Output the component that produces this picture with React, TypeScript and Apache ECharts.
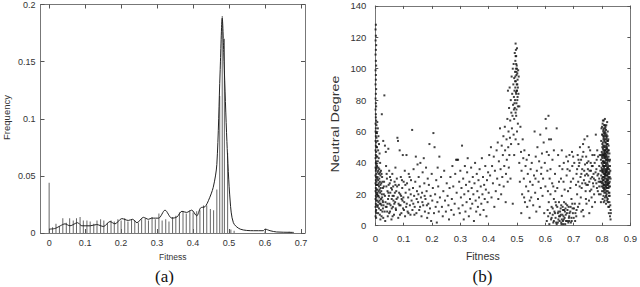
import React, { useEffect, useRef } from "react";
import * as echarts from "echarts";

// ---- Panel (a): histogram of fitness ----
const binFitness = [
  0, 0.0095, 0.019, 0.0286, 0.038, 0.0477, 0.057, 0.067, 0.076, 0.086,
  0.095, 0.105, 0.114, 0.124, 0.133, 0.143, 0.152, 0.162, 0.172, 0.181,
  0.191, 0.2, 0.21, 0.219, 0.229, 0.238, 0.248, 0.257, 0.267, 0.276,
  0.286, 0.295, 0.305, 0.314, 0.324, 0.333, 0.343, 0.352, 0.362, 0.372,
  0.381, 0.391, 0.4, 0.41, 0.419, 0.429, 0.438, 0.448, 0.457, 0.466,
  0.474, 0.481, 0.487, 0.496, 0.505, 0.514, 0.6, 0.667,
];
const binFreq = [
  0.044, 0.005, 0.008, 0.006, 0.013, 0.009, 0.013, 0.011, 0.013, 0.014,
  0.011, 0.011, 0.01, 0.008, 0.011, 0.012, 0.011, 0.009, 0.011, 0.01,
  0.012, 0.011, 0.013, 0.01, 0.012, 0.011, 0.009, 0.012, 0.013, 0.011,
  0.014, 0.012, 0.017, 0.011, 0.012, 0.01, 0.014, 0.015, 0.018, 0.019,
  0.017, 0.02, 0.018, 0.019, 0.02, 0.024, 0.024, 0.021, 0.02, 0.038,
  0.12, 0.19, 0.17, 0.07, 0.003, 0.002, 0.0015, 0.001,
];
const curveFitness = [
  0, 0.017, 0.031, 0.044, 0.058, 0.079, 0.091, 0.114, 0.132, 0.151,
  0.169, 0.183, 0.202, 0.22, 0.232, 0.244, 0.262, 0.276, 0.285, 0.304,
  0.322, 0.341, 0.355, 0.369, 0.382, 0.396, 0.41, 0.421, 0.433, 0.443,
  0.456, 0.466, 0.475, 0.481, 0.486, 0.494, 0.503, 0.512, 0.531, 0.568,
  0.595, 0.6, 0.614, 0.632, 0.669, 0.68,
];
const curveFreq = [
  0.0034, 0.004, 0.0063, 0.008, 0.0063, 0.009, 0.0063, 0.0063, 0.0074, 0.0057,
  0.01, 0.008, 0.0126, 0.011, 0.012, 0.009, 0.0137, 0.012, 0.013, 0.013,
  0.02, 0.013, 0.014, 0.019, 0.018, 0.02, 0.015, 0.022, 0.023, 0.0286,
  0.04, 0.06, 0.14, 0.188, 0.15, 0.08, 0.028, 0.009, 0.0034, 0.002,
  0.002, 0.0034, 0.002, 0.0009, 0.0006, 0.0005,
];
const fitnessTicksA = [0, 0.1, 0.2, 0.3, 0.4, 0.5, 0.6, 0.7];

// ---- Panel (b): neutral degree vs fitness (x, y pairs) ----
const ptsColumnZero = [0.002,128, 0.001,125, 0.002,121, 0.001,118, 0.003,115, 0.002,112, 0.001,109, 0.002,105, 0.003,102, 0.001,99, 0.002,96, 0.002,93, 0.001,90, 0.003,87, 0.002,84, 0.001,81, 0.002,78, 0.003,76, 0.001,74, 0.002,71, 0.002,69, 0.003,67, 0.001,65, 0.004,64, 0.002,62, 0.001,60, 0.003,59, 0.002,57, 0.004,56, 0.001,54, 0.003,53, 0.002,51, 0.004,50, 0.001,48, 0.003,47, 0.002,45, 0.004,44, 0.001,43, 0.003,41, 0.002,40, 0.004,39, 0.001,37, 0.003,36, 0.002,35, 0.004,33, 0.001,32, 0.003,31, 0.002,29, 0.004,28, 0.001,27, 0.003,26, 0.002,24, 0.004,23, 0.001,22, 0.003,21, 0.002,19, 0.004,18, 0.001,17, 0.003,16, 0.002,14, 0.004,13, 0.001,12, 0.003,10, 0.002,9, 0.004,8, 0.001,6, 0.003,5];
const ptsNearZero = [0.007,66, 0.009,62, 0.006,59, 0.011,57, 0.008,54, 0.013,52, 0.006,50, 0.01,48, 0.015,46, 0.007,44, 0.012,43, 0.009,41, 0.017,40, 0.006,38, 0.011,37, 0.014,36, 0.02,35, 0.008,34, 0.013,33, 0.018,32, 0.024,31, 0.006,30, 0.01,29, 0.016,28, 0.021,27, 0.009,26, 0.013,25, 0.019,24, 0.027,24, 0.007,23, 0.012,22, 0.017,21, 0.023,20, 0.03,20, 0.009,19, 0.014,18, 0.02,17, 0.026,16, 0.007,16, 0.011,15, 0.016,14, 0.022,13, 0.029,13, 0.008,12, 0.013,11, 0.019,10, 0.025,9, 0.033,9, 0.01,8, 0.016,7, 0.022,6, 0.028,5, 0.018,4, 0.035,3, 0.012,27, 0.015,23, 0.008,21, 0.025,28, 0.03,25, 0.01,35, 0.005,26, 0.019,14, 0.027,11, 0.022,33, 0.032,83, 0.023,71, 0.028,54, 0.034,51, 0.037,47, 0.014,30, 0.018,26, 0.021,22, 0.024,18, 0.027,15, 0.031,28, 0.034,19, 0.037,12, 0.04,33, 0.043,14, 0.046,21, 0.049,8, 0.052,31, 0.056,24, 0.058,11, 0.061,19, 0.067,14, 0.071,26, 0.075,17, 0.084,21, 0.089,13, 0.094,29, 0.099,18, 0.011,19, 0.015,16, 0.009,13, 0.017,34, 0.006,20, 0.008,31, 0.005,37];
const ptsLow = [0.038,38, 0.041,30, 0.043,22, 0.045,17, 0.04,12, 0.044,6, 0.047,26, 0.049,35, 0.046,49, 0.05,14, 0.052,9, 0.053,21, 0.055,29, 0.057,4, 0.058,17, 0.06,33, 0.062,12, 0.063,25, 0.065,19, 0.066,7, 0.068,28, 0.07,15, 0.071,37, 0.073,10, 0.074,22, 0.076,30, 0.078,56, 0.08,54, 0.079,18, 0.081,5, 0.083,26, 0.085,13, 0.086,48, 0.088,20, 0.09,31, 0.092,8, 0.093,17, 0.095,24, 0.097,45, 0.098,11, 0.1,28, 0.102,15, 0.104,35, 0.105,6, 0.107,21, 0.109,12, 0.11,45, 0.112,27, 0.114,9, 0.116,18, 0.118,33, 0.12,23, 0.122,13, 0.124,7, 0.126,29, 0.128,16, 0.13,61, 0.131,10, 0.133,24, 0.135,36, 0.137,19, 0.139,12, 0.141,28, 0.143,44, 0.145,8, 0.147,22, 0.149,39, 0.151,15, 0.153,31, 0.155,10, 0.157,25, 0.159,40, 0.161,18, 0.163,6, 0.165,21, 0.167,34, 0.169,13, 0.171,43, 0.173,27, 0.175,9, 0.177,17, 0.179,37, 0.181,22, 0.183,5, 0.185,30, 0.187,14, 0.189,26, 0.191,52, 0.193,11, 0.195,19, 0.197,3, 0.199,33, 0.201,16, 0.203,24, 0.205,59, 0.207,8, 0.209,50, 0.211,20, 0.213,12, 0.215,29, 0.217,2, 0.219,15, 0.22,37, 0.222,25, 0.224,9, 0.226,44, 0.228,18, 0.036,15, 0.039,25, 0.042,9, 0.048,19, 0.051,27, 0.054,13, 0.059,23, 0.061,6, 0.064,16, 0.069,21, 0.072,11, 0.077,25, 0.082,14, 0.087,7, 0.091,19, 0.096,16, 0.101,10, 0.106,26, 0.111,14, 0.117,8, 0.121,31, 0.125,20, 0.134,14, 0.138,7, 0.146,17, 0.152,20, 0.158,12, 0.166,15, 0.174,19, 0.182,13, 0.188,8];
const ptsMid = [0.232,31, 0.235,12, 0.238,6, 0.24,22, 0.243,35, 0.246,16, 0.249,9, 0.252,27, 0.255,19, 0.258,13, 0.26,4, 0.262,24, 0.265,31, 0.268,10, 0.27,17, 0.272,38, 0.275,25, 0.277,7, 0.28,14, 0.282,33, 0.285,42, 0.287,21, 0.289,42, 0.292,42, 0.294,11, 0.296,28, 0.298,8, 0.3,35, 0.302,18, 0.304,24, 0.306,51, 0.308,13, 0.31,30, 0.312,4, 0.314,20, 0.316,38, 0.318,9, 0.32,26, 0.322,15, 0.324,34, 0.326,43, 0.328,22, 0.33,6, 0.332,28, 0.334,17, 0.336,11, 0.338,37, 0.34,24, 0.342,14, 0.344,31, 0.346,20, 0.348,3, 0.35,27, 0.352,40, 0.354,16, 0.356,9, 0.358,33, 0.36,22, 0.362,12, 0.364,29, 0.366,18, 0.368,36, 0.37,7, 0.372,25, 0.374,14, 0.376,43, 0.378,20, 0.38,31, 0.382,10, 0.384,26, 0.386,17, 0.388,38, 0.39,23, 0.392,6, 0.394,29, 0.396,15, 0.398,34, 0.4,21];
const ptsPeak = [0.402,45, 0.405,32, 0.408,50, 0.41,18, 0.412,38, 0.415,27, 0.418,44, 0.42,12, 0.422,35, 0.425,22, 0.428,48, 0.43,30, 0.432,53, 0.434,17, 0.436,41, 0.438,26, 0.44,62, 0.442,36, 0.444,20, 0.446,51, 0.448,31, 0.45,45, 0.452,57, 0.453,25, 0.455,38, 0.457,63, 0.458,48, 0.46,15, 0.461,33, 0.463,55, 0.464,42, 0.466,68, 0.467,28, 0.468,86, 0.469,50, 0.47,60, 0.471,37, 0.472,75, 0.473,45, 0.474,88, 0.475,56, 0.476,67, 0.477,30, 0.478,80, 0.479,52, 0.48,72, 0.481,95, 0.482,62, 0.483,84, 0.484,70, 0.485,100, 0.486,77, 0.487,90, 0.488,58, 0.488,103, 0.489,82, 0.49,68, 0.49,94, 0.491,86, 0.492,110, 0.492,75, 0.493,98, 0.493,80, 0.494,105, 0.494,88, 0.495,116, 0.495,72, 0.496,100, 0.496,92, 0.497,108, 0.497,84, 0.498,96, 0.498,78, 0.499,102, 0.499,90, 0.5,113, 0.5,86, 0.501,97, 0.501,80, 0.502,93, 0.503,88, 0.504,99, 0.505,84, 0.506,95, 0.508,76, 0.485,14, 0.49,45, 0.495,55, 0.5,60, 0.503,65, 0.497,70, 0.495,108, 0.496,112, 0.497,103, 0.498,98, 0.494,95, 0.499,86, 0.501,90, 0.493,92, 0.496,85, 0.5,100, 0.502,82, 0.498,74, 0.491,78, 0.489,74, 0.503,76];
const ptsPostPeak = [0.505,52, 0.508,40, 0.51,28, 0.512,63, 0.514,47, 0.516,35, 0.518,20, 0.52,55, 0.522,43, 0.524,30, 0.526,48, 0.528,15, 0.53,38, 0.532,25, 0.534,42, 0.536,12, 0.538,33, 0.54,22, 0.542,45, 0.544,5, 0.546,28, 0.548,36, 0.55,18, 0.552,40, 0.555,26, 0.557,13, 0.56,32, 0.562,60, 0.564,21, 0.566,44, 0.568,9, 0.57,35, 0.572,50, 0.574,17, 0.576,28, 0.578,41, 0.58,12, 0.582,58, 0.584,24, 0.586,37, 0.588,46, 0.59,19, 0.592,30, 0.594,53, 0.596,8, 0.598,40, 0.6,25, 0.601,68, 0.603,62, 0.605,47, 0.607,35, 0.609,22, 0.611,70, 0.613,55, 0.515,8, 0.525,18, 0.545,16, 0.565,30, 0.585,33];
const ptsSixties = [0.605,3, 0.608,10, 0.61,6, 0.612,15, 0.614,1, 0.616,8, 0.618,20, 0.62,4, 0.622,12, 0.624,27, 0.626,7, 0.628,2, 0.63,17, 0.632,9, 0.634,33, 0.636,5, 0.638,13, 0.64,1, 0.642,24, 0.644,8, 0.646,4, 0.648,15, 0.65,38, 0.652,6, 0.654,11, 0.656,2, 0.658,19, 0.66,7, 0.662,3, 0.664,28, 0.666,10, 0.668,5, 0.67,1, 0.672,14, 0.674,44, 0.676,8, 0.678,3, 0.68,22, 0.682,12, 0.684,6, 0.686,35, 0.688,9, 0.69,2, 0.692,17, 0.694,47, 0.696,11, 0.698,30, 0.7,5, 0.702,40, 0.704,14, 0.706,8, 0.708,26, 0.615,30, 0.625,42, 0.635,22, 0.645,45, 0.655,30, 0.665,40, 0.675,32, 0.685,45, 0.695,38, 0.62,55, 0.64,62, 0.63,48, 0.66,36, 0.68,41, 0.69,28, 0.612,45, 0.618,36, 0.628,25, 0.648,28, 0.658,48, 0.668,23, 0.678,36, 0.688,24, 0.698,44, 0.662,10, 0.648,6, 0.652,9, 0.658,4, 0.664,6, 0.672,7, 0.678,10, 0.684,3, 0.692,5, 0.656,13, 0.666,15, 0.622,5, 0.626,11, 0.63,3, 0.634,8, 0.638,2, 0.642,12, 0.646,9, 0.65,3, 0.654,7, 0.657,1, 0.661,12, 0.665,4, 0.669,9, 0.673,3, 0.677,13, 0.681,2, 0.685,8, 0.689,12, 0.693,3, 0.697,8, 0.701,11, 0.705,3, 0.709,6, 0.636,15, 0.644,2, 0.663,1, 0.671,11, 0.683,5, 0.695,14, 0.71,10];
const ptsSeventies = [0.71,33, 0.712,20, 0.714,45, 0.716,28, 0.718,38, 0.72,14, 0.722,50, 0.724,31, 0.726,42, 0.728,24, 0.73,36, 0.732,10, 0.734,47, 0.736,29, 0.738,55, 0.74,39, 0.742,22, 0.744,44, 0.746,33, 0.748,57, 0.75,26, 0.752,41, 0.754,16, 0.756,35, 0.758,48, 0.76,30, 0.762,23, 0.764,38, 0.766,45, 0.768,27, 0.77,33, 0.772,20, 0.774,40, 0.776,29, 0.778,58, 0.78,36, 0.782,24, 0.784,32, 0.786,44, 0.788,28, 0.79,38, 0.715,12, 0.725,18, 0.735,6, 0.745,14, 0.755,8, 0.765,12, 0.775,15, 0.785,22, 0.73,27, 0.74,32, 0.75,36, 0.76,40, 0.77,25, 0.72,40, 0.745,26, 0.755,28, 0.765,31, 0.78,27, 0.79,30, 0.712,36, 0.717,42, 0.721,25, 0.727,33, 0.731,44, 0.737,35, 0.741,27, 0.747,40, 0.751,32, 0.757,22, 0.761,35, 0.767,38, 0.771,30, 0.777,34, 0.781,42, 0.787,33, 0.789,20, 0.763,18, 0.753,50, 0.733,52, 0.743,17, 0.773,45, 0.783,48, 0.727,9];
const ptsEighties = [0.798,62, 0.802,65, 0.806,67, 0.81,64, 0.814,61, 0.818,66, 0.8,58, 0.804,60, 0.808,57, 0.812,59, 0.816,56, 0.82,60, 0.797,54, 0.801,52, 0.805,55, 0.809,51, 0.813,53, 0.817,50, 0.821,54, 0.824,48, 0.799,47, 0.803,49, 0.807,46, 0.811,48, 0.815,45, 0.819,47, 0.823,44, 0.796,42, 0.8,44, 0.804,41, 0.808,43, 0.812,40, 0.816,42, 0.82,39, 0.826,41, 0.798,37, 0.802,39, 0.806,36, 0.81,38, 0.814,35, 0.818,37, 0.822,34, 0.828,38, 0.797,32, 0.801,34, 0.805,31, 0.809,33, 0.813,30, 0.817,32, 0.821,29, 0.825,33, 0.799,27, 0.803,29, 0.807,26, 0.811,28, 0.815,25, 0.819,27, 0.823,24, 0.827,28, 0.8,22, 0.804,24, 0.808,21, 0.812,23, 0.816,20, 0.82,22, 0.824,19, 0.802,17, 0.806,15, 0.81,18, 0.814,14, 0.818,16, 0.822,12, 0.826,15, 0.83,10, 0.828,6, 0.824,8, 0.83,4, 0.8,63, 0.805,61, 0.81,58, 0.815,55, 0.82,52, 0.803,53, 0.807,50, 0.811,46, 0.815,49, 0.819,43, 0.806,44, 0.81,41, 0.814,39, 0.818,35, 0.822,31, 0.805,38, 0.809,35, 0.813,32, 0.817,29, 0.821,26, 0.8,30, 0.804,27, 0.808,30, 0.812,26, 0.816,24, 0.801,43, 0.807,40, 0.813,44, 0.819,41, 0.825,36, 0.803,35, 0.809,31, 0.815,34, 0.821,37, 0.827,31, 0.798,25, 0.806,22, 0.814,19, 0.82,17, 0.826,21, 0.812,50, 0.808,54, 0.816,58, 0.804,57, 0.82,46, 0.822,55, 0.811,62, 0.815,64, 0.807,64, 0.803,67, 0.81,68, 0.817,52, 0.813,48, 0.809,45, 0.805,48, 0.801,50, 0.799,40, 0.803,45, 0.823,42, 0.826,46, 0.829,35, 0.828,25, 0.825,27, 0.83,30, 0.794,35, 0.792,45, 0.79,25, 0.795,20, 0.793,28, 0.796,15, 0.802,58, 0.806,56, 0.81,55, 0.814,57, 0.818,54, 0.801,46, 0.805,45, 0.809,48, 0.813,46, 0.817,44, 0.821,48, 0.8,36, 0.804,34, 0.808,38, 0.812,36, 0.816,34, 0.82,33, 0.824,30, 0.802,31, 0.806,29, 0.81,32, 0.814,28, 0.818,30, 0.822,27, 0.803,25, 0.807,23, 0.811,25, 0.815,22, 0.819,24, 0.823,21, 0.805,19, 0.809,16, 0.813,21, 0.817,18, 0.821,15, 0.825,12, 0.807,59, 0.811,53, 0.815,51, 0.819,57, 0.823,51, 0.804,51, 0.808,47, 0.812,43, 0.816,47, 0.82,42, 0.803,41, 0.807,37, 0.811,34, 0.815,38, 0.819,32, 0.801,28, 0.805,26, 0.809,24, 0.813,27, 0.817,26, 0.799,35, 0.797,45, 0.796,28, 0.81,60, 0.812,63, 0.806,62, 0.818,49, 0.822,38, 0.826,34, 0.828,42, 0.827,19, 0.829,13, 0.831,8, 0.824,25, 0.82,28, 0.814,42, 0.808,40, 0.81,44, 0.812,33, 0.806,33, 0.816,36, 0.804,38, 0.818,40, 0.82,36];

const pairs = (flat: number[]) => {
  const out: number[][] = [];
  for (let i = 0; i + 1 < flat.length; i += 2) out.push([flat[i], flat[i + 1]]);
  return out;
};

const FONT = "Liberation Sans";
const LABEL = { fontFamily: FONT, fontSize: 9, color: "#333" };
const FRAME = { color: "#777", width: 1 };

export default function App() {
  const ref = useRef<HTMLDivElement>(null);
  useEffect(() => {
    if (!ref.current) return;
    const chart = echarts.init(ref.current, undefined, { renderer: "svg" });
    const scatter = [
      ...pairs(ptsColumnZero), ...pairs(ptsNearZero), ...pairs(ptsLow), ...pairs(ptsMid),
      ...pairs(ptsPeak), ...pairs(ptsPostPeak), ...pairs(ptsSixties), ...pairs(ptsSeventies),
      ...pairs(ptsEighties),
    ];
    const fmt = (v: number) => String(+v.toFixed(2));
    const tickA = { show: true, inside: true, length: 4, lineStyle: { color: "#555" } };
    chart.setOption({
      animation: false,
      backgroundColor: "#fff",
      grid: [
        { left: 40.5, top: 3, width: 264.5, height: 230 },
        { left: 375.3, top: 5.9, width: 256.7, height: 219.8 },
      ],
      xAxis: [
        {
          gridIndex: 0, type: "value", min: -0.024, max: 0.711, position: "bottom",
          axisLine: { show: true, onZero: false, lineStyle: FRAME },
          axisTick: { ...tickA, customValues: fitnessTicksA },
          axisLabel: { ...LABEL, margin: 5, customValues: fitnessTicksA, formatter: fmt },
          splitLine: { show: false },
        },
        {
          gridIndex: 0, type: "value", min: -0.024, max: 0.711, position: "top",
          axisLine: { show: true, onZero: false, lineStyle: FRAME },
          axisTick: { ...tickA, customValues: fitnessTicksA },
          axisLabel: { show: false },
          splitLine: { show: false },
        },
        {
          gridIndex: 1, type: "value", min: 0, max: 0.9, interval: 0.1, position: "bottom",
          axisLine: { show: true, onZero: false, lineStyle: FRAME },
          axisTick: { ...tickA, length: 3 },
          axisLabel: { ...LABEL, fontSize: 9.5, margin: 8, formatter: fmt, showMaxLabel: true },
          splitLine: { show: false },
        },
        {
          gridIndex: 1, type: "value", min: 0, max: 0.9, interval: 0.1, position: "top",
          axisLine: { show: true, onZero: false, lineStyle: FRAME },
          axisTick: { ...tickA, length: 3 },
          axisLabel: { show: false },
          splitLine: { show: false },
        },
      ],
      yAxis: [
        {
          gridIndex: 0, type: "value", min: 0, max: 0.2, interval: 0.05, position: "left",
          axisLine: { show: true, onZero: false, lineStyle: FRAME },
          axisTick: tickA,
          axisLabel: { ...LABEL, margin: 5, formatter: fmt },
          splitLine: { show: false },
        },
        {
          gridIndex: 0, type: "value", min: 0, max: 0.2, interval: 0.05, position: "right",
          axisLine: { show: true, onZero: false, lineStyle: FRAME },
          axisTick: tickA,
          axisLabel: { show: false },
          splitLine: { show: false },
        },
        {
          gridIndex: 1, type: "value", min: 0, max: 140, interval: 20, position: "left",
          axisLine: { show: true, onZero: false, lineStyle: FRAME },
          axisTick: { ...tickA, length: 3 },
          axisLabel: { ...LABEL, fontSize: 9.5, margin: 9 },
          splitLine: { show: false },
        },
        {
          gridIndex: 1, type: "value", min: 0, max: 140, interval: 20, position: "right",
          axisLine: { show: true, onZero: false, lineStyle: FRAME },
          axisTick: { ...tickA, length: 3 },
          axisLabel: { show: false },
          splitLine: { show: false },
        },
      ],
      series: [
        {
          type: "bar", xAxisIndex: 0, yAxisIndex: 0, barWidth: 1,
          itemStyle: { color: "#666" },
          data: binFitness.map((f, i) => [f, binFreq[i]]),
        },
        {
          type: "line", xAxisIndex: 0, yAxisIndex: 0, smooth: 0.3, symbol: "none",
          lineStyle: { color: "#222", width: 1 },
          data: curveFitness.map((f, i) => [f, curveFreq[i]]),
        },
        {
          type: "scatter", xAxisIndex: 2, yAxisIndex: 2, symbol: "rect", symbolSize: 2,
          itemStyle: { color: "#111" },
          data: scatter,
        },
      ],
      graphic: [
        { type: "text", x: 6, y: 117.5, rotation: Math.PI / 2,
          style: { text: "Frequency", font: `9.5px "${FONT}"`, fill: "#333", align: "center", verticalAlign: "middle" } },
        { type: "text", x: 172.8, y: 257, style: { text: "Fitness", font: `8.5px "${FONT}"`, fill: "#333", align: "center", verticalAlign: "middle" } },
        { type: "text", x: 164.5, y: 276, style: { text: "(a)", font: `17px "Liberation Serif"`, fill: "#111", align: "center", verticalAlign: "middle" } },
        { type: "text", x: 335, y: 124, rotation: Math.PI / 2, scaleX: 1.3,
          style: { text: "Neutral Degree", font: `11px "${FONT}"`, fill: "#333", align: "center", verticalAlign: "middle" } },
        { type: "text", x: 482.8, y: 256, style: { text: "Fitness", font: `10.5px "${FONT}"`, fill: "#333", align: "center", verticalAlign: "middle" } },
        { type: "text", x: 482.5, y: 276, style: { text: "(b)", font: `17px "Liberation Serif"`, fill: "#111", align: "center", verticalAlign: "middle" } },
      ],
    });
    return () => chart.dispose();
  }, []);
  return <div ref={ref} style={{ position: "fixed", left: 0, top: 0, width: 640, height: 287 }} />;
}
